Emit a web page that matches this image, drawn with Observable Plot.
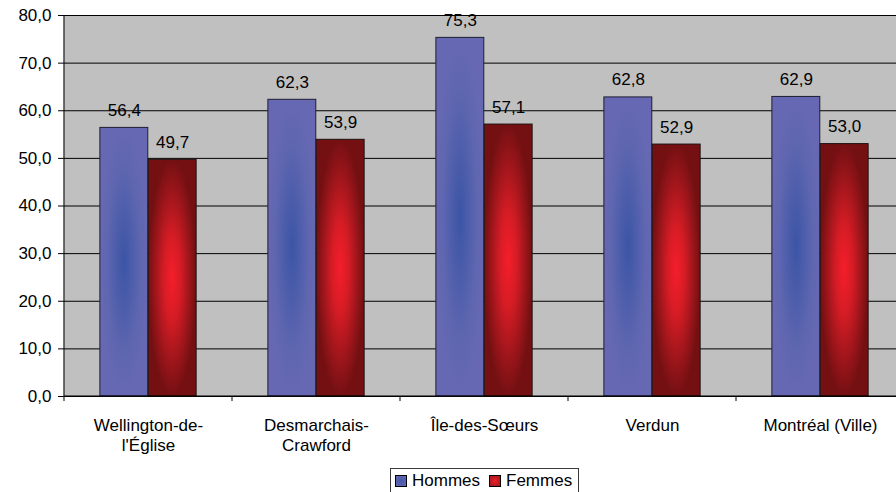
<!DOCTYPE html>
<html lang="fr">
<head>
<meta charset="utf-8">
<script src="https://cdn.jsdelivr.net/npm/d3@7"></script>
<script src="https://cdn.jsdelivr.net/npm/@observablehq/plot@0.6"></script>
<style>
  html, body { margin: 0; padding: 0; background: #fff; width: 896px; height: 492px; overflow: hidden; }
  #wrap { position: relative; width: 896px; height: 492px; overflow: hidden; }
  #chart svg { display: block; max-width: none; }
  .legend {
    position: absolute; left: 390px; top: 468px;
    display: flex; align-items: center;
    border: 1px solid #3a3a3a; background: #fff;
    padding: 2px 6px 2px 4px;
    font-family: "Liberation Sans", Arial, sans-serif; font-size: 17px; line-height: 20px; color: #000;
  }
  .legend .sw { width: 10px; height: 10px; border: 1px solid #000; margin-right: 5px; }
  .legend .sw.h { background: radial-gradient(ellipse at center, #4658a8 0%, #6468b2 100%); }
  .legend .sw.f { background: radial-gradient(ellipse at center, #f01e2a 0%, #a0161b 100%); margin-left: 9px; }
</style>
</head>
<body>
<div id="wrap">
  <div id="chart"></div>
  <div class="legend"><span class="sw h"></span><span>Hommes</span><span class="sw f"></span><span>Femmes</span></div>
</div>
<script>
// Secteurs (libellés sur deux lignes quand ils sont longs)
const categories = ["Wellington-de-\nl'Église", "Desmarchais-\nCrawford", "Île-des-Sœurs", "Verdun", "Montréal (Ville)"];
const series = ["Hommes", "Femmes"];
const hommes = [56.4, 62.3, 75.3, 62.8, 62.9];
const femmes = [49.7, 53.9, 57.1, 52.9, 53.0];
const yTicks = [0, 10, 20, 30, 40, 50, 60, 70, 80];

const rows = categories.flatMap((category, i) => [
  {category, series: series[0], value: hommes[i]},
  {category, series: series[1], value: femmes[i]}
]);
const hRows = rows.filter(d => d.series === "Hommes");
const fRows = rows.filter(d => d.series === "Femmes");

const fmt = v => v.toFixed(1).replace(".", ",");

// Dimensions
const W = 905, H = 466, ML = 63, MR = 0, MT = 15, MB = 70;
const band = (W - ML - MR) / categories.length;
const barW = band * 0.287;
const outer = (band - 2 * barW) / 2;

// Dégradés des barres
function gradients() {
  const defs = d3.create("svg:defs");
  const add = (id, stops) => {
    const g = defs.append("radialGradient").attr("id", id)
      .attr("cx", "50%").attr("cy", "50%").attr("r", "50%");
    for (const [o, c] of stops) g.append("stop").attr("offset", o).attr("stop-color", c);
  };
  add("hommesFill", [[0, "#3c55a6"], [0.3, "#4a5caa"], [0.7, "#5f66b0"], [1, "#6668b3"]]);
  add("femmesFill", [[0, "#f41e2b"], [0.35, "#d61c25"], [0.75, "#98151a"], [1, "#741012"]]);
  return defs.node();
}

// Axes : ligne verticale, ligne de base et graduations entre les secteurs
function axisLines(index, scales, values, dims) {
  const {x, y} = scales;
  const bw = typeof x.bandwidth === "function" ? x.bandwidth() : x.bandwidth;
  const y0 = y(0), yTop = y(80);
  const g = d3.create("svg:g").attr("stroke", "#000").attr("stroke-width", 1).attr("fill", "none");
  const x0 = x(categories[0]);
  g.append("line").attr("x1", x0).attr("x2", x0).attr("y1", yTop).attr("y2", y0 + 5);
  g.append("line").attr("x1", x0).attr("x2", x(categories[categories.length - 1]) + bw).attr("y1", y0).attr("y2", y0);
  const edges = categories.slice(1).map(c => x(c)).concat([x(categories[categories.length - 1]) + bw]);
  for (const e of edges) g.append("line").attr("x1", e).attr("x2", e).attr("y1", y0).attr("y2", y0 + 5);
  return g.node();
}

const chart = Plot.plot({
  width: W, height: H,
  marginLeft: ML, marginRight: MR, marginTop: MT, marginBottom: MB,
  style: {
    fontFamily: "'Liberation Sans', Arial, sans-serif",
    fontSize: "17px",
    color: "#000",
    background: "transparent",
    maxWidth: "none"
  },
  x: {type: "band", domain: categories, paddingInner: 0, paddingOuter: 0, axis: null},
  y: {domain: [0, 80], axis: null},
  marks: [
    gradients,
    Plot.frame({fill: "#c0c0c0", stroke: null}),
    Plot.ruleY(yTicks, {stroke: "#000", strokeWidth: 1}),
    Plot.barY(hRows, {x: "category", y: "value", fill: "url(#hommesFill)", stroke: "#1e1e30", strokeWidth: 1,
      insetLeft: outer, insetRight: outer + barW}),
    Plot.barY(fRows, {x: "category", y: "value", fill: "url(#femmesFill)", stroke: "#1e1010", strokeWidth: 1,
      insetLeft: outer + barW, insetRight: outer}),
    axisLines,
    Plot.axisY(yTicks, {tickSize: 5, tickPadding: 7, tickFormat: fmt, fontSize: 17, label: null, stroke: "#000"}),
    Plot.text(hRows, {x: "category", y: "value", text: d => fmt(d.value), dx: -barW / 2, dy: -12,
      lineAnchor: "bottom", fontSize: 17, fill: "#000"}),
    Plot.text(fRows, {x: "category", y: "value", text: d => fmt(d.value), dx: barW / 2, dy: -12,
      lineAnchor: "bottom", fontSize: 17, fill: "#000"}),
    Plot.text(categories, {x: d => d, text: d => d, frameAnchor: "bottom", lineAnchor: "top",
      dy: 20, lineHeight: 1.2, fontSize: 17, fill: "#000"})
  ]
});
document.getElementById("chart").appendChild(chart);
</script>
</body>
</html>
